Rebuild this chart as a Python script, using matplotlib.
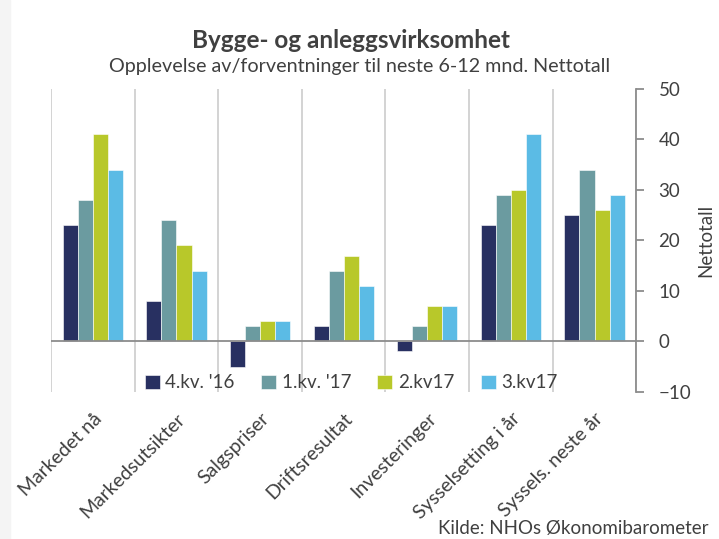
import numpy as np
import matplotlib as mpl
mpl.use('Agg')
import matplotlib.pyplot as plt
from matplotlib.patches import Rectangle

# data
categories = ['Markedet nå', 'Markedsutsikter', 'Salgspriser', 'Driftsresultat',
              'Investeringer', 'Sysselsetting i år', 'Syssels. neste år']
series_names = ["4.kv. '16", "1.kv. '17", '2.kv17', '3.kv17']
q4_16 = [23, 8, -5, 3, -2, 23, 25]
q1_17 = [28, 24, 3, 14, 3, 29, 34]
q2_17 = [41, 19, 4, 17, 7, 30, 26]
q3_17 = [34, 14, 4, 11, 7, 41, 29]
yticks = [-10, 0, 10, 20, 30, 40, 50]

colors = ['#283061', '#6b9ba0', '#b8c82a', '#5bbbe5']
txt = '#404040'

plt.rcParams['font.family'] = ['Lato', 'DejaVu Sans']

fig = plt.figure(figsize=(7.19, 5.39), dpi=100)
fig.patches.append(Rectangle((0, 0), 10 / 719, 1, transform=fig.transFigure,
                             color='#f4f4f4', zorder=0))
ax = fig.add_axes([0.071, 0.273, 0.814, 0.562])

x = np.arange(len(categories))
w = 0.18
for i, vals in enumerate([q4_16, q1_17, q2_17, q3_17]):
    ax.bar(x + (i - 1.5) * w, vals, w, color=colors[i], label=series_names[i],
           edgecolor='white', linewidth=0.4, zorder=3)

ax.set_xlim(-0.5, len(categories) - 0.5)
ax.set_ylim(-10, 50)

# vertical lines between categories
for b in np.arange(-0.5, len(categories) - 0.4, 1):
    ax.axvline(b, color='#c8c8c8', lw=1.1, zorder=1)
ax.axhline(0, color='#8c8c8c', lw=1.3, zorder=4)

for s in ['top', 'left', 'bottom']:
    ax.spines[s].set_visible(False)
ax.spines['right'].set_color('#8c8c8c')
ax.spines['right'].set_linewidth(1.3)

ax.yaxis.tick_right()
ax.yaxis.set_label_position('right')
ax.set_yticks(yticks)
ax.tick_params(axis='y', colors='#8c8c8c', labelcolor=txt, labelsize=13.5,
               length=6, width=1.3, pad=10)
ax.set_ylabel('Nettotall', fontsize=13.5, color=txt, labelpad=4)

ax.set_xticks(x)
ax.set_xticklabels(categories, rotation=45, ha='right', rotation_mode='anchor',
                   fontsize=14, color=txt)
ax.tick_params(axis='x', length=0, pad=13)

ax.legend(loc='center', bbox_to_anchor=(0.513, 0.03), ncol=4, frameon=False,
          fontsize=13.5, handlelength=0.8, handleheight=0.8, handletextpad=0.3,
          columnspacing=1.4, labelcolor=txt)

fig.text(0.488, 0.925, 'Bygge- og anleggsvirksomhet', ha='center', va='center',
         fontsize=17.5, fontweight='bold', color=txt)
fig.text(0.5, 0.877, 'Opplevelse av/forventninger til neste 6-12 mnd. Nettotall',
         ha='center', va='center', fontsize=14.2, color=txt)
fig.text(0.985, 0.02, 'Kilde: NHOs Økonomibarometer', ha='right', va='center',
         fontsize=13.5, color=txt)

fig.savefig('out.png', dpi=100)
